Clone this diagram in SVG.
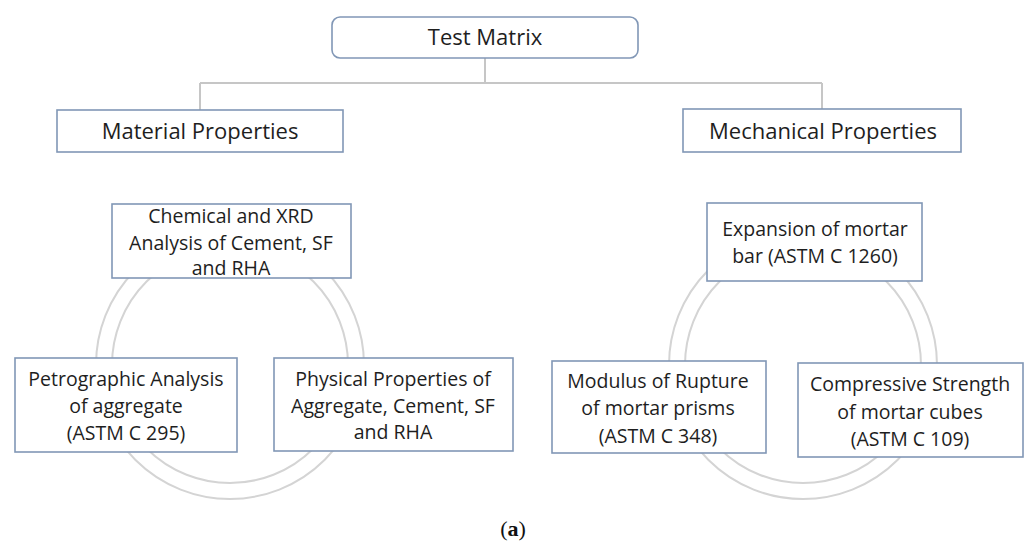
<svg xmlns="http://www.w3.org/2000/svg" width="1027" height="547" viewBox="0 0 1027 547">
<style>
.box{fill:#fff;stroke:#8197b6;stroke-width:1.6}
.ring{fill:none;stroke:#d4d4d4;stroke-width:2}
.con{fill:none;stroke:#c6c6c6;stroke-width:2}
.t{font-family:"Open Sans","Liberation Sans",sans-serif;fill:#1e1e1e;text-anchor:middle}
.big{font-size:22px}
.mid{font-size:19.5px}
</style>
<rect width="1027" height="547" fill="#fff"/>
<g id="connectors">
<path class="con" d="M485 58 V83 M200 83 H822 M200 83 V110 M822 83 V109"/>
</g>
<g id="rings">
<circle class="ring" cx="230" cy="365" r="134"/>
<circle class="ring" cx="230" cy="365" r="118"/>
<circle class="ring" cx="803" cy="365" r="134"/>
<circle class="ring" cx="803" cy="365" r="118"/>
</g>
<g id="test-matrix">
<rect class="box" x="332" y="17" width="306" height="41" rx="8"/>
<text class="t big" x="485" y="45">Test Matrix</text>
</g>
<g id="material-properties">
<rect class="box" x="57" y="110" width="286" height="42"/>
<text class="t big" x="200" y="139">Material Properties</text>
</g>
<g id="mechanical-properties">
<rect class="box" x="683" y="109" width="278" height="43"/>
<text class="t big" x="823" y="139">Mechanical Properties</text>
</g>
<g id="chemical">
<rect class="box" x="112" y="204" width="239" height="74"/>
<text class="t mid" x="231" y="223">Chemical and XRD</text>
<text class="t mid" x="231" y="250">Analysis of Cement, SF</text>
<text class="t mid" x="231" y="275">and RHA</text>
</g>
<g id="petrographic">
<rect class="box" x="15" y="358" width="222" height="94"/>
<text class="t mid" x="126" y="386">Petrographic Analysis</text>
<text class="t mid" x="126" y="413">of aggregate</text>
<text class="t mid" x="126" y="440">(ASTM C 295)</text>
</g>
<g id="physical">
<rect class="box" x="274" y="358" width="239" height="93"/>
<text class="t mid" x="393" y="386">Physical Properties of</text>
<text class="t mid" x="393" y="413">Aggregate, Cement, SF</text>
<text class="t mid" x="393" y="439">and RHA</text>
</g>
<g id="expansion">
<rect class="box" x="707" y="203" width="215" height="78"/>
<text class="t mid" x="815" y="236">Expansion of mortar</text>
<text class="t mid" x="815" y="263">bar (ASTM C 1260)</text>
</g>
<g id="modulus">
<rect class="box" x="552" y="361" width="214" height="92"/>
<text class="t mid" x="658" y="388">Modulus of Rupture</text>
<text class="t mid" x="658" y="415">of mortar prisms</text>
<text class="t mid" x="658" y="443">(ASTM C 348)</text>
</g>
<g id="compressive">
<rect class="box" x="798" y="363" width="225" height="94"/>
<text class="t mid" x="910" y="391">Compressive Strength</text>
<text class="t mid" x="910" y="419">of mortar cubes</text>
<text class="t mid" x="910" y="446">(ASTM C 109)</text>
</g>
<text x="513" y="536" font-family="'Liberation Serif',serif" font-size="22" fill="#111" text-anchor="middle">(<tspan font-weight="bold">a</tspan>)</text>
</svg>
